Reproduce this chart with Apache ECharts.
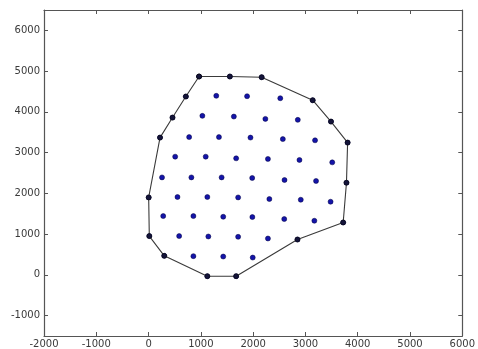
<!DOCTYPE html>
<html>
<head>
<meta charset="utf-8">
<script src="https://cdn.jsdelivr.net/npm/echarts@6/dist/echarts.min.js"></script>
<style>html,body{margin:0;padding:0;background:#fff;}#c{width:478px;height:349px;}</style>
</head>
<body>
<div id="c"></div>
<script>
var pointX = [966,1555,2163, 713,1295,1884,2519,3139, 458,1029,1631,2234,2854,3489,
  219,776,1346,1949,2568,3184,3807, 509,1093,1675,2283,2886,3513,
  257,819,1397,1982,2600,3203,3785, 2,553,1124,1713,2310,2911,3481,
  280,857,1428,1985,2595,3171,3722, 14,585,1143,1713,2283,2848,
  300,857,1428,1992, 1124,1675];
var pointY = [4868,4868,4851, 4377,4394,4384,4335,4286, 3860,3902,3885,3828,3804,3762,
  3369,3381,3381,3369,3332,3302,3246, 2901,2901,2860,2845,2820,2761,
  2392,2392,2392,2378,2328,2304,2262, 1901,1911,1911,1901,1861,1844,1795,
  1443,1443,1426,1419,1370,1328,1286, 952,952,942,934,893,868,
  467,460,450,425, -32,-32];
var hullIdx = [0,1,2,7,13,20,33,47,53,59,58,54,48,34,14,8,3,0];
var xTicks = [-2000,-1000,0,1000,2000,3000,4000,5000,6000];
var yTicks = [-1000,0,1000,2000,3000,4000,5000,6000];

var pts = pointX.map(function(x,i){return [x, pointY[i]];});
var hull = hullIdx.map(function(i){return [pointX[i], pointY[i]];});

var lineC = '#555';
var font = {fontFamily:'DejaVu Sans', fontSize:10, color:'#3a3a3a', formatter:function(v){return String(v);}};
function ax(extra){
  return Object.assign({
    type:'value',
    axisLine:{show:true, onZero:false, lineStyle:{color:lineC, width:1.2}},
    splitLine:{show:false}
  }, extra);
}
var chart = echarts.init(document.getElementById('c'), null, {renderer:'canvas'});
chart.setOption({
  animation:false,
  grid:{left:44, right:13, top:10, bottom:13},
  xAxis:[
    ax({min:-2000, max:6000, position:'bottom',
      axisTick:{inside:true, length:4, customValues:xTicks, lineStyle:{color:lineC}},
      axisLabel:Object.assign({customValues:xTicks, margin:3, showMaxLabel:true, showMinLabel:true}, font)}),
    ax({min:-2000, max:6000, position:'top',
      axisTick:{inside:true, length:4, customValues:xTicks, lineStyle:{color:lineC}},
      axisLabel:{show:false}})
  ],
  yAxis:[
    ax({min:-1500, max:6500, position:'left',
      axisTick:{inside:true, length:4, customValues:yTicks, lineStyle:{color:lineC}},
      axisLabel:Object.assign({customValues:yTicks, margin:4}, font)}),
    ax({min:-1500, max:6500, position:'right',
      axisTick:{inside:true, length:4, customValues:yTicks, lineStyle:{color:lineC}},
      axisLabel:{show:false}})
  ],
  series:[
    {type:'scatter', data:pts, symbol:'circle', symbolSize:5,
      itemStyle:{color:'#1414a8', borderColor:'#000040', borderWidth:0.5, opacity:1}},
    {type:'line', data:hull, symbol:'circle', symbolSize:5, showSymbol:true,
      lineStyle:{color:'#3a3a3a', width:1.1},
      itemStyle:{color:'#14143a', borderColor:'#000', borderWidth:0.5}}
  ]
});
</script>
</body>
</html>
